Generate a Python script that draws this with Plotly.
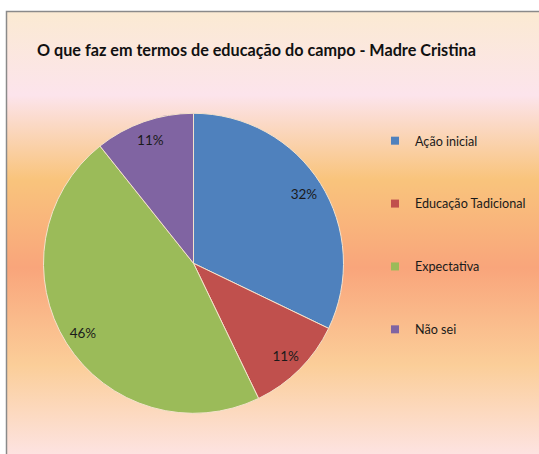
import plotly.graph_objects as go

# ---- data ----
categories = ["Ação inicial", "Educação Tadicional", "Expectativa", "Não sei"]
counts = [9, 3, 13, 3]
colors = ["#4F81BD", "#C0504D", "#9BBB59", "#8064A2"]
title_text = "O que faz em termos de educação do campo - Madre Cristina"

W, H = 539, 454
FONT = "Lato, 'Open Sans', sans-serif"

# background gradient (SVG data URI)
stops = [(0.0, "#FBEAD2"), (0.19, "#FCE4EC"), (0.38, "#F9C47C"),
         (0.58, "#F9A57B"), (0.80, "#FBCE99"), (1.0, "#FDE3E1")]
stop_xml = "".join(f"<stop offset='{o}' stop-color='{c.replace('#', '%23')}'/>" for o, c in stops)
svg = ("data:image/svg+xml;charset=utf-8,"
       "<svg xmlns='http://www.w3.org/2000/svg' width='533' height='443' preserveAspectRatio='none'>"
       "<defs><linearGradient id='g' x1='0' y1='0' x2='0' y2='1'>" + stop_xml +
       "</linearGradient></defs><rect width='533' height='443' fill='url(%23g)'/></svg>")

cx, cy, r = 193.5, 263.3, 150
dom_x = [(cx - r) / W, (cx + r) / W]
dom_y = [1 - (cy + r) / H, 1 - (cy - r) / H]

fig = go.Figure()

# main pie
fig.add_trace(go.Pie(
    labels=categories, values=counts, sort=False, direction="clockwise", rotation=0,
    marker=dict(colors=colors, line=dict(color="#F4E2CC", width=1)),
    textinfo="none", showlegend=False, hoverinfo="label+percent",
    domain=dict(x=dom_x, y=dom_y),
))
# label ring (transparent) to place percentages near the rim
fig.add_trace(go.Pie(
    labels=categories, values=counts, sort=False, direction="clockwise", rotation=0,
    hole=0.74, marker=dict(colors=["rgba(0,0,0,0)"] * 4, line=dict(width=0)),
    texttemplate="%{percent:.0%}", textposition="inside", insidetextorientation="horizontal",
    textfont=dict(family=FONT, size=13.5, color="#1a1a1a"),
    showlegend=False, hoverinfo="skip",
    domain=dict(x=dom_x, y=dom_y),
))

# legend entries
for i, (cat, col) in enumerate(zip(categories, colors)):
    fig.add_trace(go.Scatter(
        x=[None], y=[None], mode="markers", name=cat, legendgroup=f"g{i}",
        marker=dict(symbol="square", size=8, color=col),
    ))

fig.update_layout(
    width=W, height=H, margin=dict(l=0, r=0, t=0, b=0),
    paper_bgcolor="white", plot_bgcolor="rgba(0,0,0,0)",
    xaxis=dict(visible=False), yaxis=dict(visible=False),
    font=dict(family=FONT, color="#1a1a1a"),
    title=dict(text="<b>" + title_text + "</b>", x=37 / W, xanchor="left",
               y=1 - 50 / H, yanchor="middle", font=dict(family=FONT, size=16.2, color="#111")),
    legend=dict(x=375 / W, xanchor="left", y=1 - 126 / H, yanchor="top",
                bgcolor="rgba(0,0,0,0)", font=dict(family=FONT, size=12.6, color="#1a1a1a"),
                tracegroupgap=43.5, traceorder="grouped"),
    images=[dict(source=svg, xref="paper", yref="paper", x=6 / W, y=1 - 11 / H,
                 sizex=533 / W, sizey=443 / H, sizing="stretch", layer="below",
                 xanchor="left", yanchor="top")],
    shapes=[dict(type="rect", xref="paper", yref="paper", x0=6.5 / W, y0=-0.02,
                 x1=1.02, y1=1 - 11.5 / H, line=dict(color="#8A8A8A", width=1.5),
                 fillcolor="rgba(0,0,0,0)", layer="above")],
    showlegend=True,
)

fig.write_html("out.html", config={"displayModeBar": False},
               post_script="document.body.style.margin='0';")
